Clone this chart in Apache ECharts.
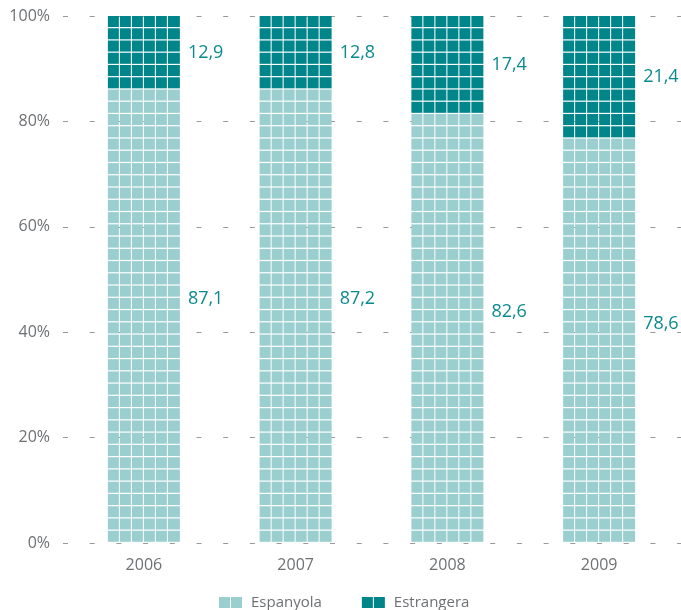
<!DOCTYPE html>
<html>
<head>
<meta charset="utf-8">
<script src="https://cdn.jsdelivr.net/npm/echarts@6/dist/echarts.min.js"></script>
<style>
html,body{margin:0;padding:0;background:#fff;}
#chart{width:681px;height:610px;}
</style>
</head>
<body>
<div id="chart"></div>
<script>
// ---- data ----
var years = ['2006', '2007', '2008', '2009'];
var espanyola = [87.1, 87.2, 82.6, 78.6];
var estrangera = [12.9, 12.8, 17.4, 21.4];
var yTicks = [0, 20, 40, 60, 80, 100];

// ---- style ----
var LIGHT = '#9bcfcf';
var DARK = '#00868a';
var LABEL = '#0b8a8d';
var GREY = '#6e7073';
var FONT = '"Open Sans", "Noto Sans", sans-serif';
var BAR_W = 72, COLS = 6, ROWS = 43, GAP = 1.2;

function fmt(v) { return v.toFixed(1).replace('.', ','); }

function makeRender(fromTop, color, labelShift) {
  return function (params, api) {
    var i = api.value(0), v = api.value(1);
    var top = api.coord([i, 100]);
    var bot = api.coord([i, 0]);
    var pitch = (bot[1] - top[1]) / ROWS;
    var colW = BAR_W / COLS;
    var x0 = top[0] - BAR_W / 2;
    var n = fromTop ? Math.ceil(v * ROWS / 100) : Math.floor(v * ROWS / 100);
    var children = [];
    var y1, y2;
    for (var r = 0; r < n; r++) {
      var y = fromTop ? top[1] + r * pitch : bot[1] - (r + 1) * pitch;
      for (var c = 0; c < COLS; c++) {
        children.push({
          type: 'rect',
          shape: { x: x0 + c * colW, y: y, width: colW - (c === COLS - 1 ? 0 : 1), height: pitch - GAP },
          style: { fill: color }
        });
      }
    }
    if (fromTop) { y1 = top[1]; y2 = top[1] + n * pitch; }
    else { y1 = bot[1] - n * pitch; y2 = bot[1]; }
    children.push({
      type: 'text',
      style: {
        text: fmt(v), x: x0 + BAR_W + 8, y: (y1 + y2) / 2 + labelShift,
        fill: LABEL, fontSize: 18, fontFamily: FONT,
        align: 'left', verticalAlign: 'middle'
      }
    });
    return { type: 'group', children: children };
  };
}

var chart = echarts.init(document.getElementById('chart'), null, { renderer: 'canvas' });
chart.setOption({
  backgroundColor: '#fff',
  animation: false,
  textStyle: { fontFamily: FONT },
  grid: [
    { left: 68, right: 6, top: 16, bottom: 67 },
    { left: 63, right: 0, top: 16, bottom: 67 }
  ],
  legend: {
    left: 214, top: 590,
    itemWidth: 23, itemHeight: 11, itemGap: 40,
    icon: 'path://M0,0h11v11h-11z M12,0h11v11h-11z',
    textStyle: { color: GREY, fontSize: 15, fontFamily: FONT, padding: [0, 0, 0, 4] },
    data: ['Espanyola', 'Estrangera']
  },
  xAxis: [
    {
      type: 'category', data: years, gridIndex: 0,
      axisLine: { show: false }, axisTick: { show: false },
      axisLabel: { color: GREY, fontSize: 16, margin: 14, fontFamily: FONT },
      splitLine: { show: false }
    },
    { type: 'value', gridIndex: 1, show: false, min: 0, max: 1 }
  ],
  yAxis: [
    { type: 'value', gridIndex: 0, min: 0, max: 100, show: false },
    {
      type: 'value', gridIndex: 1, min: yTicks[0], max: yTicks[yTicks.length - 1], interval: 20,
      axisLine: { show: false }, axisTick: { show: false },
      axisLabel: { color: GREY, fontSize: 16, margin: 13, fontFamily: FONT, formatter: function (v) { return v + '%'; } },
      splitLine: { show: true, lineStyle: { color: '#9a9a9a', width: 1, type: [5, 21.7] } }
    }
  ],
  series: [
    {
      name: 'Espanyola', type: 'custom', xAxisIndex: 0, yAxisIndex: 0,
      itemStyle: { color: LIGHT },
      renderItem: makeRender(false, LIGHT, -17),
      encode: { x: 0, y: 1 },
      data: espanyola.map(function (v, i) { return [i, v]; }),
      z: 5
    },
    {
      name: 'Estrangera', type: 'custom', xAxisIndex: 0, yAxisIndex: 0,
      itemStyle: { color: DARK },
      renderItem: makeRender(true, DARK, 0),
      encode: { x: 0, y: 1 },
      data: estrangera.map(function (v, i) { return [i, v]; }),
      z: 5
    }
  ]
});
</script>
</body>
</html>
